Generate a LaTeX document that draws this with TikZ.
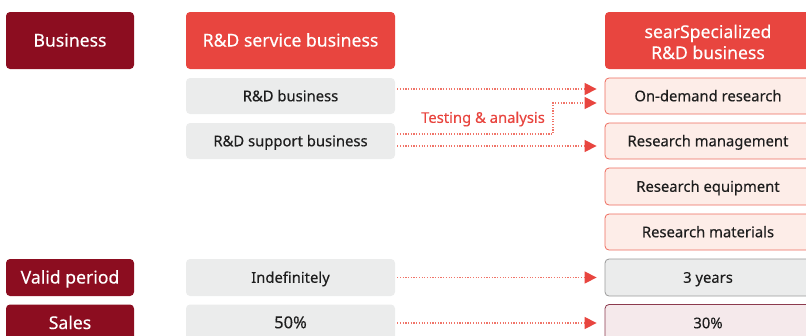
\documentclass[tikz,border=0pt]{standalone}
\usepackage{fontspec}
\setmainfont{Noto Sans}[FakeBold=0.25]
\usepackage{tikz}
\usepackage{xcolor}
\usetikzlibrary{arrows.meta,positioning}
\definecolor{wine}{HTML}{8C0D20}
\definecolor{coral}{HTML}{E8453F}
\definecolor{salmon}{HTML}{F07468}
\definecolor{ash}{HTML}{EBECEC}
\definecolor{ashline}{HTML}{9A9A9A}
\definecolor{blush}{HTML}{FDEDE8}
\definecolor{blushline}{HTML}{EE6B5E}
\definecolor{rose}{HTML}{F5E9EB}
\definecolor{roseline}{HTML}{8C3A4E}
\definecolor{ink}{HTML}{1E1E1E}
\tikzset{
  rowhead/.style={fill=wine, text=white, rounded corners=4pt, minimum width=128pt,
                  font=\fontsize{17.6}{20}\selectfont, inner sep=0pt,
                  text height=13.5pt, text depth=1.5pt},
  colhead/.style={fill=coral, text=white, rounded corners=4pt, minimum height=57pt,
                  font=\fontsize{17.6}{20}\selectfont, align=center, inner sep=0pt,
                  text height=13.5pt, text depth=1.5pt},
  greybox/.style={fill=ash, text=ink, rounded corners=4pt, minimum width=209pt,
                  minimum height=36pt, font=\fontsize{14.8}{17}\selectfont, inner sep=0pt,
                  text height=11.5pt, text depth=1pt},
  pinkbox/.style={fill=blush, draw=blushline, line width=0.8pt, text=ink, rounded corners=4pt,
                  minimum width=206pt, minimum height=36pt,
                  font=\fontsize{14.8}{17}\selectfont, inner sep=0pt,
                  text height=11.5pt, text depth=1pt},
  flow/.style={-{Triangle[length=12pt,width=12pt,color=coral]}, draw=salmon,
               line width=1.3pt, dash pattern=on 1.2pt off 1.5pt}
}
\begin{document}
\begin{tikzpicture}[x=1pt,y=-1pt]
  \useasboundingbox (0,0) rectangle (806,335);
  \clip (0,0) rectangle (806,335);
  % row heads
  \node[rowhead, minimum height=57pt] (busi) at (70,40.5) {Business};
  \node[rowhead, minimum height=37pt] (valid) at (70,277.5) {Valid period};
  \node[rowhead, minimum height=37pt] (sales) at (70,323) {Sales};
  % current business
  \node[colhead, minimum width=209pt] (svc) at (290.5,40.5) {R\&D service business};
  \node[greybox] (rnd) at (290.5,96) {R\&D business};
  \node[greybox] (sup) at (290.5,141) {R\&D support business};
  \node[greybox, minimum height=37pt] (indef) at (290.5,277.5) {Indefinitely};
  \node[greybox, minimum height=37pt, font=\fontsize{16.5}{18}\selectfont] (fifty) at (290.5,323) {50\%};
  % specialized business
  \node[colhead, minimum width=206pt, text height=38.5pt] (spec) at (708,40.5)
    {searSpecialized\\[1pt]R\&D business};
  \node[pinkbox] (ondem) at (708,96) {On-demand research};
  \node[pinkbox] (mgmt) at (708,141) {Research management};
  \node[pinkbox, minimum height=37pt] (equip) at (708,186.5) {Research equipment};
  \node[pinkbox] (mater) at (708,232) {Research materials};
  \node[pinkbox, fill=ash, draw=ashline, minimum height=37pt] (years) at (708,277.5) {3 years};
  \node[pinkbox, fill=rose, draw=roseline, minimum height=37pt] (thirty) at (708,323) {30\%};
  % links
  \node[text=coral, font=\fontsize{14.8}{17}\selectfont] (test) at (483,119) {Testing \& analysis};
  \coordinate (bend) at (553,118);
  \draw[flow] ([shift={(2pt,7pt)}]rnd.east) -- ([shift={(-8pt,7pt)}]ondem.west);
  \draw[flow] ([shift={(2pt,7pt)}]sup.east) -| (bend) |- ([shift={(-8pt,-7pt)}]ondem.west);
  \draw[flow] ([shift={(2pt,-5pt)}]sup.east) -- ([shift={(-8pt,-5pt)}]mgmt.west);
  \draw[flow] ([xshift=2pt]indef.east) -- ([xshift=-8pt]years.west);
  \draw[flow] ([xshift=2pt]fifty.east) -- ([xshift=-8pt]thirty.west);
\end{tikzpicture}
\end{document}
